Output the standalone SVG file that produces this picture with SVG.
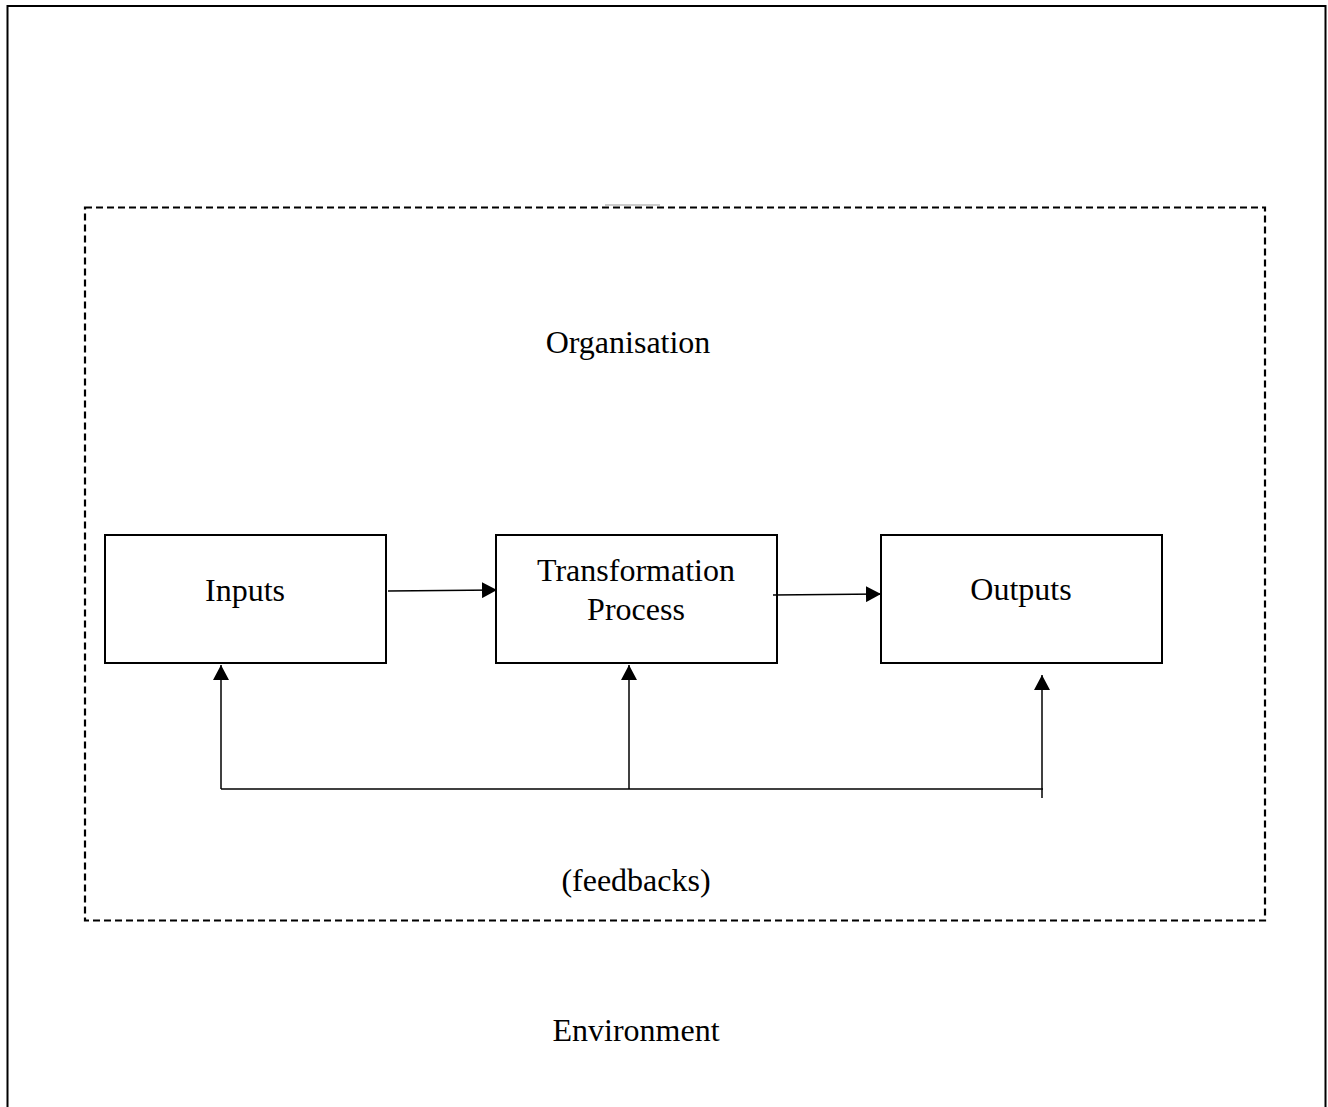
<svg xmlns="http://www.w3.org/2000/svg" width="1328" height="1107" viewBox="0 0 1328 1107">
<style>
  .t { font-family: "Liberation Serif", "Times New Roman", serif; font-size: 32px; fill: #000; text-anchor: middle; }
  .box { fill: #fff; stroke: #000; stroke-width: 2; }
  .ln { fill: none; stroke: #000; stroke-width: 1.5; }
</style>
<defs>
  <marker id="ah" markerWidth="16" markerHeight="16" refX="15" refY="8" orient="auto" markerUnits="userSpaceOnUse">
    <path d="M0,0 L15,8 L0,16 Z" fill="#000"/>
  </marker>
</defs>
<rect width="1328" height="1107" fill="#fff"/>
<g id="environment">
  <path d="M7.5,1107 V6 H1325.5 V1107" fill="none" stroke="#000" stroke-width="2"/>
  <text class="t" x="636" y="1041">Environment</text>
</g>
<g id="organisation">
  <rect x="85" y="207.5" width="1180" height="713" fill="none" stroke="#000" stroke-width="2.2" stroke-dasharray="7,4"/>
  <line x1="605" y1="205" x2="660" y2="205" stroke="#999" stroke-width="1"/>
  <text class="t" x="628" y="353">Organisation</text>
  <text class="t" x="636" y="891">(feedbacks)</text>
</g>
<g id="inputs">
  <rect class="box" x="105" y="535" width="281" height="128"/>
  <text class="t" x="245" y="601">Inputs</text>
</g>
<g id="transformation">
  <rect class="box" x="496" y="535" width="281" height="128"/>
  <text class="t" x="636" y="581">Transformation</text>
  <text class="t" x="636" y="620">Process</text>
</g>
<g id="outputs">
  <rect class="box" x="881" y="535" width="281" height="128"/>
  <text class="t" x="1021" y="600">Outputs</text>
</g>
<g id="connectors">
  <line class="ln" x1="388" y1="591" x2="497" y2="590" marker-end="url(#ah)"/>
  <line class="ln" x1="773" y1="595" x2="881" y2="594" marker-end="url(#ah)"/>
  <path class="ln" d="M221,789 H1043"/>
  <line class="ln" x1="221" y1="789" x2="221" y2="665" marker-end="url(#ah)"/>
  <line class="ln" x1="629" y1="789" x2="629" y2="665" marker-end="url(#ah)"/>
  <line class="ln" x1="1042" y1="798" x2="1042" y2="675" marker-end="url(#ah)" stroke="#444" stroke-width="2"/>
</g>
</svg>
